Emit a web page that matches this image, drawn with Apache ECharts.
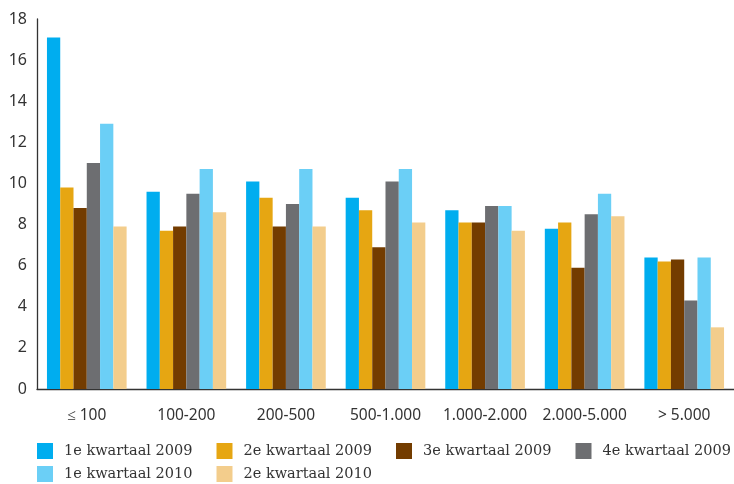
<!DOCTYPE html>
<html>
<head>
<meta charset="utf-8">
<script src="https://cdn.jsdelivr.net/npm/echarts@6/dist/echarts.min.js"></script>
<style>
html,body{margin:0;padding:0;background:#fff;}
#chart{width:734px;height:484px;}
</style>
</head>
<body>
<div id="chart"></div>
<script>
var categories = ['≤ 100', '100-200', '200-500', '500-1.000', '1.000-2.000', '2.000-5.000', '> 5.000'];
var seriesNames = ['1e kwartaal 2009', '2e kwartaal 2009', '3e kwartaal 2009', '4e kwartaal 2009', '1e kwartaal 2010', '2e kwartaal 2010'];
var q1_2009 = [17.1, 9.6, 10.1, 9.3, 8.7, 7.8, 6.4];
var q2_2009 = [9.8, 7.7, 9.3, 8.7, 8.1, 8.1, 6.2];
var q3_2009 = [8.8, 7.9, 7.9, 6.9, 8.1, 5.9, 6.3];
var q4_2009 = [11.0, 9.5, 9.0, 10.1, 8.9, 8.5, 4.3];
var q1_2010 = [12.9, 10.7, 10.7, 10.7, 8.9, 9.5, 6.4];
var q2_2010 = [7.9, 8.6, 7.9, 8.1, 7.7, 8.4, 3.0];
var yTicks = [0, 2, 4, 6, 8, 10, 12, 14, 16, 18];

var values = [q1_2009, q2_2009, q3_2009, q4_2009, q1_2010, q2_2010];
var colors = ['#00adef', '#e6a612', '#733c00', '#6d6e71', '#6bcff6', '#f3cd8c'];

var legends = seriesNames.map(function (n, i) {
  var row = i < 4 ? 0 : 1;
  var col = i < 4 ? i : i - 4;
  return {
    data: [n],
    left: 37 + col * 179.5,
    top: 443 + row * 23,
    itemWidth: 16,
    itemHeight: 16,
    icon: 'rect',
    padding: 0,
    textStyle: {fontFamily: 'DejaVu Serif', fontSize: 14.5, color: '#333', padding: [0, 0, 0, 6]}
  };
});

var chart = echarts.init(document.getElementById('chart'));
chart.setOption({
  animation: false,
  color: colors,
  legend: legends,
  grid: {left: 37, top: 19, right: 0, bottom: 95, containLabel: false},
  xAxis: {
    type: 'category',
    data: categories,
    axisLine: {lineStyle: {color: '#333', width: 1.3}},
    axisTick: {show: false},
    axisLabel: {interval: 0, fontFamily: 'Noto Sans', fontSize: 15.5, color: '#333', margin: 19}
  },
  yAxis: {
    type: 'value',
    min: yTicks[0],
    max: yTicks[yTicks.length - 1],
    interval: 2,
    axisLine: {show: true, lineStyle: {color: '#333', width: 1.3}},
    axisTick: {show: false},
    splitLine: {show: false},
    axisLabel: {fontFamily: 'Noto Sans', fontSize: 16, color: '#333', margin: 10}
  },
  series: seriesNames.map(function (n, i) {
    return {
      name: n,
      type: 'bar',
      data: values[i],
      barGap: '0%',
      barCategoryGap: '20%'
    };
  })
});
</script>
</body>
</html>
